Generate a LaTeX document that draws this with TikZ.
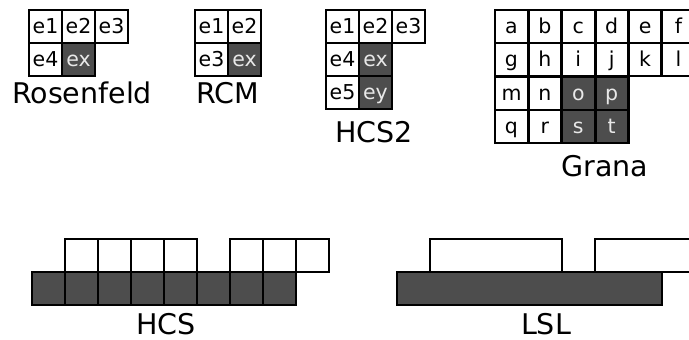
\documentclass[tikz,border=0pt]{standalone}
\usepackage{fontspec}
\setmainfont{DejaVu Sans}
\definecolor{cdark}{HTML}{4D4D4D}
\definecolor{ctxt}{HTML}{E8E8E8}
\tikzset{
  cell/.style={draw=black, line width=2.6pt, minimum width=33pt, minimum height=33pt,
    inner sep=0pt, fill=white, font=\fontsize{20.5}{23}\selectfont, text=black,
    text height=13.5pt, text depth=0.5pt},
  dcell/.style={cell, fill=cdark, text=ctxt},
  lbl/.style={anchor=base, inner sep=0pt, text depth=0pt, font=\fontsize{28.5}{33}\selectfont},
  bar/.style={draw=black, line width=2.6pt},
}
\begin{document}
\begin{tikzpicture}[x=1pt,y=-1pt]
\useasboundingbox (0,0) rectangle (689,340);
% Rosenfeld
\node[cell]  (r1) at (29+16.5,10+16.5) {e1};
\node[cell]  (r2) at (62+16.5,10+16.5) {e2};
\node[cell]  (r3) at (95+16.5,10+16.5) {e3};
\node[cell]  (r4) at (29+16.5,43+16.5) {e4};
\node[dcell] (rx) at (62+16.5,43+16.5) {ex};
\node[lbl] (rl) at (82,103) {Rosenfeld};
% RCM
\node[cell]  (c1) at (195+16.5,10+16.5) {e1};
\node[cell]  (c2) at (228+16.5,10+16.5) {e2};
\node[cell]  (c3) at (195+16.5,43+16.5) {e3};
\node[dcell] (cx) at (228+16.5,43+16.5) {ex};
\node[lbl] (cl) at (228,103) {RCM};
% HCS2
\node[cell]  (h1) at (326+16.5,10+16.5) {e1};
\node[cell]  (h2) at (359+16.5,10+16.5) {e2};
\node[cell]  (h3) at (392+16.5,10+16.5) {e3};
\node[cell]  (h4) at (326+16.5,43+16.5) {e4};
\node[dcell] (hx) at (359+16.5,43+16.5) {ex};
\node[cell]  (h5) at (326+16.5,76+16.5) {e5};
\node[dcell] (hy) at (359+16.5,76+16.5) {ey};
\node[lbl] (hl) at (374,142) {HCS2};
% Grana
\foreach \t [count=\i from 0] in {a,b,c,d,e,f}
  \node[cell] (g0\i) at (495+16.5+33.4*\i,10+16.5) {\t};
\foreach \t [count=\i from 0] in {g,h,i,j,k,l}
  \node[cell] (g1\i) at (495+16.5+33.4*\i,43+16.5) {\t};
\node[cell]  (gm) at (495+16.5,77+16.5) {m};
\node[cell]  (gn) at (528.4+16.5,77+16.5) {n};
\node[dcell] (go) at (561.8+16.5,77+16.5) {o};
\node[dcell] (gp) at (595.2+16.5,77+16.5) {p};
\node[cell]  (gq) at (495+16.5,110+16.5) {q};
\node[cell]  (gr) at (528.4+16.5,110+16.5) {r};
\node[dcell] (gs) at (561.8+16.5,110+16.5) {s};
\node[dcell] (gt) at (595.2+16.5,110+16.5) {t};
\node[lbl] (gl) at (605,176) {Grana};
% HCS
\foreach \k in {1,2,3,4,6,7,8}
  \node[cell] (w\k) at (32+16.5+33*\k,239+16.5) {};
\foreach \k in {0,...,7}
  \node[dcell] (d\k) at (32+16.5+33*\k,272+16.5) {};
\node[lbl] (sl) at (166,334) {HCS};
% LSL
\draw[bar, fill=white] (430,239) rectangle (562,272);
\draw[bar, fill=white] (595,239) rectangle (700,272);
\draw[bar, fill=cdark] (397,272) rectangle (662,305);
\node[lbl] (ll) at (546,334) {LSL};
\end{tikzpicture}
\end{document}
